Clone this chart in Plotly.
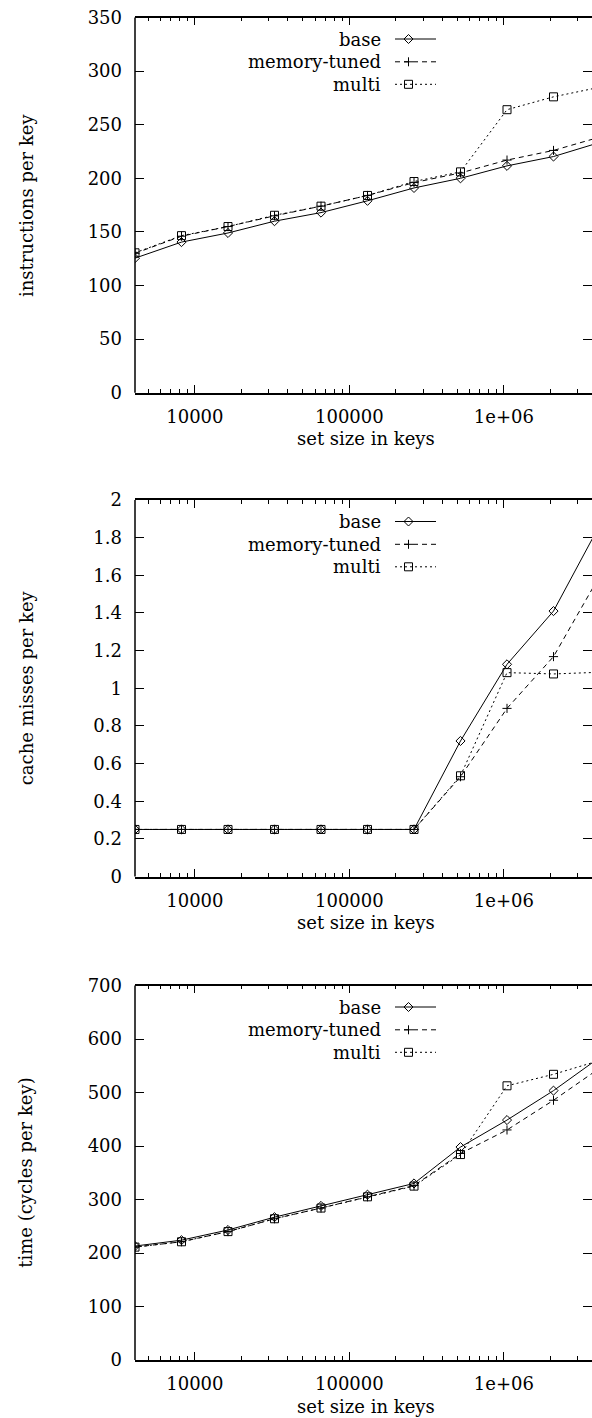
import plotly.graph_objects as go

# ---------------- data ----------------
sizes = [4096, 8192, 16384, 32768, 65536, 131072, 262144, 524288, 1048576, 2097152, 4194304]

instr_base = [125.5, 140.5, 149, 160, 168, 179, 191, 200, 211.6, 220.3, 233.5]
instr_memory = [130, 146, 155, 165, 174, 184, 196, 205, 217, 226, 238.5]
instr_multi = [130.5, 146.5, 155, 165.5, 174, 184, 197, 206, 264, 276, 285]

miss_base = [0.25, 0.25, 0.25, 0.25, 0.25, 0.25, 0.25, 0.72, 1.127, 1.41, 1.87]
miss_memory = [0.25, 0.25, 0.25, 0.25, 0.25, 0.25, 0.25, 0.53, 0.893, 1.168, 1.60]
miss_multi = [0.25, 0.25, 0.25, 0.25, 0.25, 0.25, 0.25, 0.535, 1.083, 1.076, 1.085]

time_base = [213, 224, 243, 267, 288, 309, 330, 398, 448.5, 503.5, 566]
time_memory = [211, 221, 240, 264, 284, 305, 326, 386, 430, 485.5, 546]
time_multi = [211, 221, 240, 264, 284, 305, 325, 384, 512.5, 534, 560]

series_names = ["base", "memory-tuned", "multi"]
y_titles = ["instructions per key", "cache misses per key", "time (cycles per key)"]
x_title = "set size in keys"
x_tickvals = [10000, 100000, 1000000]
x_ticktext = ["10000", "100000", "1e+06"]
x_minorvals = [5000, 6000, 7000, 8000, 9000,
               20000, 30000, 40000, 50000, 60000, 70000, 80000, 90000,
               200000, 300000, 400000, 500000, 600000, 700000, 800000, 900000,
               2000000, 3000000, 4000000]
y_ranges = [[0, 350], [0, 2], [0, 700]]
y_dticks = [50, 0.2, 100]

panels = [
    [instr_base, instr_memory, instr_multi],
    [miss_base, miss_memory, miss_multi],
    [time_base, time_memory, time_multi],
]

# ---------------- styling ----------------
W, H = 592, 1418
L = 135
FONT = "DejaVu Serif"
FS = 18
panel_px = [(17.5, 392.7), (500, 876.5), (985.5, 1360)]  # top, bottom in px
PX_PER_DECADE = 154.47
x_lo = 3.6123599966  # log10(4096)
x_hi = x_lo + (W - L) / PX_PER_DECADE

styles = [
    dict(dash="solid", symbol="diamond-open", size=7),
    dict(dash="5px,4px", symbol="cross-thin-open", size=6.5),
    dict(dash="2px,3px", symbol="square-open", size=8),
]

fig = go.Figure()
layout = dict(
    template="none",
    width=W, height=H,
    margin=dict(l=L, r=0, t=0, b=0, pad=0, autoexpand=False),
    paper_bgcolor="white", plot_bgcolor="white",
    showlegend=False,
    font=dict(family=FONT, size=FS, color="black"),
)

shapes = []
annotations = []


def px_to_domain_x(px):
    return (px - L) / (W - L)


for i, (vals, ytitle) in enumerate(zip(panels, y_titles)):
    k = "" if i == 0 else str(i + 1)
    xa, ya = "x" + k, "y" + k
    top, bot = panel_px[i]
    ph = bot - top
    dom = [1 - bot / H, 1 - top / H]
    for s, (v, st) in enumerate(zip(vals, styles)):
        fig.add_trace(go.Scatter(
            x=sizes, y=v, xaxis=xa, yaxis=ya, mode="lines+markers",
            name=series_names[s],
            line=dict(color="black", width=1, dash=st["dash"]),
            marker=dict(symbol=st["symbol"], size=st["size"], color="black",
                        line=dict(color="black", width=1)),
            cliponaxis=True,
        ))
    layout["xaxis" + k] = dict(
        type="log", range=[x_lo, x_hi], domain=[0, 1], anchor=ya,
        tickvals=x_tickvals, ticktext=x_ticktext,
        ticks="inside", ticklen=8, tickwidth=1, tickcolor="black",
        minor=dict(tickvals=x_minorvals, ticks="inside", ticklen=4,
                   tickwidth=1, tickcolor="black", showgrid=False),
        showline=True, linecolor="black", linewidth=1.5, mirror="ticks",
        showgrid=False, zeroline=False, automargin=False,
        tickfont=dict(family=FONT, size=FS, color="black"),
        ticklabelstandoff=7,
    )
    layout["yaxis" + k] = dict(
        range=y_ranges[i], dtick=y_dticks[i], domain=dom, anchor=xa,
        ticks="inside", ticklen=9, tickwidth=1, tickcolor="black",
        showline=False, mirror="ticks",
        showgrid=False, zeroline=False, automargin=False,
        tickfont=dict(family=FONT, size=FS, color="black"),
        ticklabelstandoff=12,
    )
    # left border
    shapes.append(dict(
        type="line", xref="paper", yref=ya + " domain",
        x0=0, x1=0, y0=0, y1=1, line=dict(color="black", width=1.5),
    ))
    # axis titles
    annotations.append(dict(
        text=ytitle, xref="paper", yref=ya + " domain",
        x=px_to_domain_x(26), y=0.5, xanchor="center", yanchor="middle",
        textangle=-90, showarrow=False, font=dict(family=FONT, size=FS, color="black"),
    ))
    annotations.append(dict(
        text=x_title, xref="paper", yref=ya + " domain",
        x=px_to_domain_x(366), y=-46 / ph, xanchor="center", yanchor="middle",
        showarrow=False, font=dict(family=FONT, size=FS, color="black"),
    ))
    # key (gnuplot style: text, then sample)
    rows = [21.5, 44.3, 66.8]
    marker_paths = [
        "M 0,4.5 L 4.5,0 L 0,-4.5 L -4.5,0 Z",
        "M -4.5,0 L 4.5,0 M 0,-4.5 L 0,4.5",
        "M -4,-4 L 4,-4 L 4,4 L -4,4 Z",
    ]
    for s, st in enumerate(styles):
        yy = 1 - rows[s] / ph
        annotations.append(dict(
            text=series_names[s], xref="paper", yref=ya + " domain",
            x=px_to_domain_x(383), y=yy, xanchor="right", yanchor="middle",
            showarrow=False, font=dict(family=FONT, size=FS, color="black"),
        ))
        shapes.append(dict(
            type="line", xref="paper", yref=ya + " domain",
            x0=px_to_domain_x(395), x1=px_to_domain_x(436), y0=yy, y1=yy,
            line=dict(color="black", width=1, dash=st["dash"]),
        ))
        shapes.append(dict(
            type="path", xref="paper", yref=ya + " domain",
            xsizemode="pixel", ysizemode="pixel",
            xanchor=px_to_domain_x(408.5), yanchor=yy,
            path=marker_paths[s],
            line=dict(color="black", width=1), fillcolor="rgba(0,0,0,0)",
        ))

layout["shapes"] = shapes
layout["annotations"] = annotations
fig.update_layout(**layout)

post = (
    "var de=document.documentElement;de.style.margin='0';de.style.padding='0';de.style.overflow='hidden';"
    "document.body.style.margin='0';document.body.style.padding='0';document.body.style.overflow='hidden';"
    "var gd=document.getElementById('{plot_id}');gd.style.position='fixed';gd.style.left='0px';gd.style.top='0px';"
)
fig.write_html("out.html", config={"displayModeBar": False}, post_script=post)
